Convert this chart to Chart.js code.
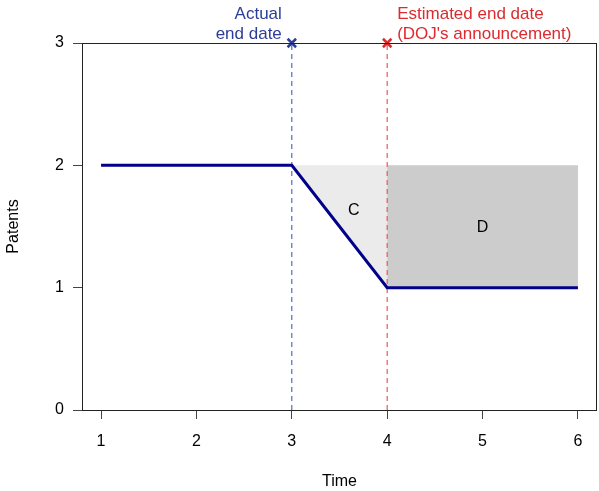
<!DOCTYPE html>
<html>
<head>
<meta charset="utf-8">
<script src="https://cdn.jsdelivr.net/npm/chart.js@4"></script>
<style>
  html, body { margin: 0; padding: 0; background: #fff; }
  #wrap { width: 599px; height: 491px; }
</style>
</head>
<body>
<div id="wrap"><canvas id="chart" width="599" height="491"></canvas></div>
<script>
// ---- data ----
const xTicks = [1, 2, 3, 4, 5, 6];
const yTicks = [0, 1, 2, 3];
const timeVals = [1, 3, 4, 6];
const patentVals = [2, 2, 1, 1];
const areaCX = [3, 4, 4, 3];
const areaCY = [2, 2, 1, 2];
const areaDX = [4, 6, 6, 4, 4];
const areaDY = [2, 2, 1, 1, 2];
const actualEnd = 3;
const estimatedEnd = 4;
const actualLabel = ['Actual', 'end date'];
const estimatedLabel = ['Estimated end date', "(DOJ's announcement)"];
const areaLabels = [{ text: 'C', x: 3.65, y: 1.63 }, { text: 'D', x: 5, y: 1.49 }];

const FONT = 'Liberation Sans, Arial, sans-serif';
const BLUE = '#2c3e95';
const RED = '#dc2a2e';

const pts = (xs, ys) => xs.map((x, i) => ({ x: x, y: ys[i] }));

// box around plot + text annotations
const annotPlugin = {
    id: 'annot',
    afterDatasetsDraw(chart) {
        const ctx = chart.ctx;
        const xs = chart.scales.x, ys = chart.scales.y;
        const a = chart.chartArea;
        ctx.save();
        ctx.font = '16px ' + FONT;
        ctx.textBaseline = 'middle';
        ctx.textAlign = 'center';
        ctx.fillStyle = '#000';
        areaLabels.forEach(l => ctx.fillText(l.text, xs.getPixelForValue(l.x), ys.getPixelForValue(l.y)));
        ctx.font = '17px ' + FONT;
        ctx.textBaseline = 'alphabetic';
        ctx.textAlign = 'right';
        ctx.fillStyle = BLUE;
        const ax = xs.getPixelForValue(actualEnd) - 10;
        ctx.fillText(actualLabel[0], ax, 19);
        ctx.fillText(actualLabel[1], ax, 39);
        ctx.textAlign = 'left';
        ctx.fillStyle = RED;
        const ex = xs.getPixelForValue(estimatedEnd) + 10;
        ctx.fillText(estimatedLabel[0], ex, 19);
        ctx.fillText(estimatedLabel[1], ex, 39);
        ctx.strokeStyle = '#222';
        ctx.lineWidth = 1;
        ctx.strokeRect(Math.round(a.left) + 0.5, Math.round(a.top) + 0.5, Math.round(a.right - a.left) - 1, Math.round(a.bottom - a.top));
        ctx.restore();
    }
};

new Chart(document.getElementById('chart').getContext('2d'), {
    type: 'scatter',
    data: {
        datasets: [
            { data: pts(timeVals, patentVals), showLine: true, borderColor: '#00008b', borderWidth: 3, pointRadius: 0, fill: false },
            { data: pts([actualEnd, estimatedEnd], [3, 3]), showLine: false, pointStyle: 'crossRot', pointRadius: 6, borderColor: [BLUE, RED], borderWidth: 2.5, clip: false },
            { data: pts([actualEnd, actualEnd], [0, 3]), showLine: true, borderColor: '#2f4fb8', borderWidth: 1, borderDash: [5, 4], pointRadius: 0 },
            { data: pts([estimatedEnd, estimatedEnd], [0, 3]), showLine: true, borderColor: '#e85a5a', borderWidth: 1.2, borderDash: [5, 4], pointRadius: 0 },
            { data: pts(areaDX, areaDY), showLine: true, borderWidth: 0, borderColor: 'rgba(0,0,0,0)', backgroundColor: '#cccccc', fill: 'shape', pointRadius: 0 },
            { data: pts(areaCX, areaCY), showLine: true, borderWidth: 0, borderColor: 'rgba(0,0,0,0)', backgroundColor: '#ebebeb', fill: 'shape', pointRadius: 0 }
        ]
    },
    options: {
        responsive: false,
        animation: false,
        layout: { autoPadding: false, padding: { top: 43, right: 2, left: 0, bottom: 0 } },
        plugins: { legend: { display: false }, tooltip: { enabled: false } },
        scales: {
            x: {
                type: 'linear', min: 0.8, max: 6.2,
                afterBuildTicks: s => { s.ticks = xTicks.map(v => ({ value: v })); },
                afterFit: s => { s.height = 81; s.paddingLeft = 0; s.paddingRight = 0; },
                border: { display: false },
                grid: { drawOnChartArea: false, drawTicks: true, tickLength: 9, color: '#444' },
                ticks: { color: '#000', padding: 13, font: { family: FONT, size: 16 }, maxRotation: 0 },
                title: { display: true, text: 'Time', color: '#000', font: { family: FONT, size: 16 }, padding: { top: 0, bottom: 0 } }
            },
            y: {
                type: 'linear', min: 0, max: 3,
                afterBuildTicks: s => { s.ticks = yTicks.map(v => ({ value: v })); },
                afterFit: s => { s.width = 82; s.paddingTop = 0; s.paddingBottom = 0; },
                border: { display: false },
                grid: { drawOnChartArea: false, drawTicks: true, tickLength: 9, color: '#444' },
                ticks: { color: '#000', padding: 9, font: { family: FONT, size: 16 } },
                title: { display: true, text: 'Patents', color: '#000', font: { family: FONT, size: 16 }, padding: { top: 4, bottom: 0 } }
            }
        }
    },
    plugins: [annotPlugin]
});
</script>
</body>
</html>
